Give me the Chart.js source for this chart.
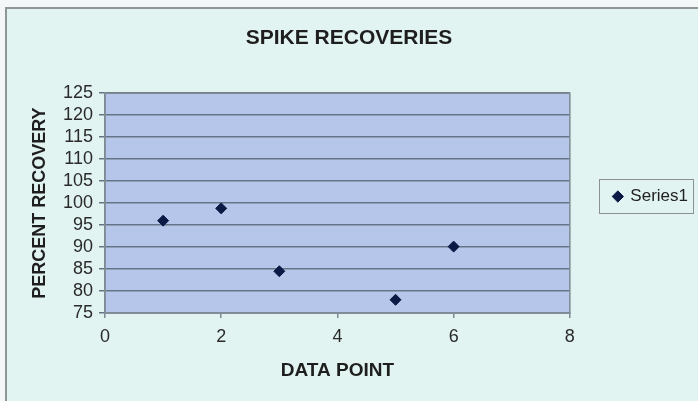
<!DOCTYPE html>
<html>
<head>
<meta charset="utf-8">
<script src="https://cdn.jsdelivr.net/npm/chart.js@4/dist/chart.umd.min.js"></script>
<style>
    html, body { margin: 0; padding: 0; background: #f4f7f7; }
    #frame {
        position: absolute; left: 5px; top: 7px; width: 693px; height: 394px;
        background: #e2f4f2; border-left: 2px solid #8e9696; border-top: 2px solid #8e9696;
        box-sizing: border-box;
    }
    #wrap { position: absolute; left: 0; top: 0; width: 698px; height: 401px; }
</style>
</head>
<body>
<div id="frame"></div>
<div id="wrap"><canvas id="chart" width="698" height="401"></canvas></div>
<script>
// Spike recoveries scatter data
var dataPoints  = [1, 2, 3, 5, 6];
var recoveries  = [96, 98.8, 84.5, 78, 90.1];
var xTicks      = [0, 2, 4, 6, 8];
var yTicks      = [75, 80, 85, 90, 95, 100, 105, 110, 115, 120, 125];
var seriesName  = 'Series1';

var FONT = '"Liberation Sans", Arial, sans-serif';

// Plot area background, border, and framed legend
var plotPlugin = {
    id: 'plotFrame',
    beforeDraw: function(chart) {
        var a = chart.chartArea;
        var ctx = chart.ctx;
        ctx.save();
        ctx.fillStyle = '#b6c6ea';
        ctx.fillRect(a.left, a.top, a.right - a.left, a.bottom - a.top);
        ctx.restore();
    },
    afterDraw: function(chart) {
        var a = chart.chartArea;
        var ctx = chart.ctx;
        ctx.save();
        ctx.strokeStyle = '#7f8a94';
        ctx.lineWidth = 1.5;
        ctx.strokeRect(a.left, a.top, a.right - a.left, a.bottom - a.top);
        var boxes = chart.legend && chart.legend.legendHitBoxes;
        if (boxes && boxes.length) {
            var b = boxes[0];
            ctx.strokeStyle = '#8c9090';
            ctx.lineWidth = 1;
            ctx.strokeRect(Math.round(b.left) - 14.5, Math.round(b.top) - 8.5, Math.round(b.width) + 20, Math.round(b.height) + 17);
        }
        ctx.restore();
    }
};

new Chart(document.getElementById('chart'), {
    type: 'scatter',
    data: {
        datasets: [{
            label: seriesName,
            data: dataPoints.map(function(x, i) { return { x: x, y: recoveries[i] }; }),
            pointStyle: 'rectRot',
            pointRadius: 5.5,
            pointHoverRadius: 5.5,
            backgroundColor: '#0b1a45',
            borderColor: '#0b1a45',
            borderWidth: 1,
        }],
    },
    options: {
        responsive: false,
        animation: false,
        layout: { padding: { left: 0, right: 0, top: 0, bottom: 8 } },
        plugins: {
            title: {
                display: true,
                text: 'SPIKE RECOVERIES',
                color: '#1e1e1e',
                font: { family: FONT, size: 21, weight: 'bold' },
                padding: { top: 26, bottom: 42 },
            },
            legend: {
                position: 'right',
                labels: {
                    usePointStyle: true,
                    pointStyle: 'rectRot',
                    boxWidth: 8,
                    boxHeight: 8,
                    color: '#222',
                    font: { family: FONT, size: 17 },
                    padding: 44,
                },
            },
            tooltip: { enabled: false },
        },
        scales: {
            x: {
                type: 'linear',
                min: 0,
                max: 8,
                afterBuildTicks: function(scale) {
                    scale.ticks = xTicks.map(function(v) { return { value: v }; });
                },
                afterFit: function(scale) { scale.height = 80; },
                ticks: { color: '#2a2a2a', font: { family: FONT, size: 18 }, padding: 8, autoSkip: false },
                grid: { drawOnChartArea: false, color: '#7f8a94', tickLength: 5, lineWidth: 1.5 },
                border: { color: '#7f8a94', width: 1.5 },
                title: {
                    display: true,
                    text: 'DATA POINT',
                    color: '#1e1e1e',
                    font: { family: FONT, size: 19, weight: 'bold' },
                    padding: { top: 4, bottom: 11 },
                },
            },
            y: {
                min: 75,
                max: 125,
                afterBuildTicks: function(scale) {
                    scale.ticks = yTicks.map(function(v) { return { value: v }; });
                },
                afterFit: function(scale) { scale.width = 105; },
                ticks: { color: '#2a2a2a', font: { family: FONT, size: 18 }, padding: 6, autoSkip: false },
                grid: { color: '#667486', tickLength: 6, lineWidth: 1.5 },
                border: { color: '#7f8a94', width: 1.5 },
                title: {
                    display: true,
                    text: 'PERCENT RECOVERY',
                    color: '#1e1e1e',
                    font: { family: FONT, size: 18, weight: 'bold' },
                    padding: { top: 29, bottom: 4 },
                },
            },
        },
    },
    plugins: [plotPlugin],
});
</script>
</body>
</html>
